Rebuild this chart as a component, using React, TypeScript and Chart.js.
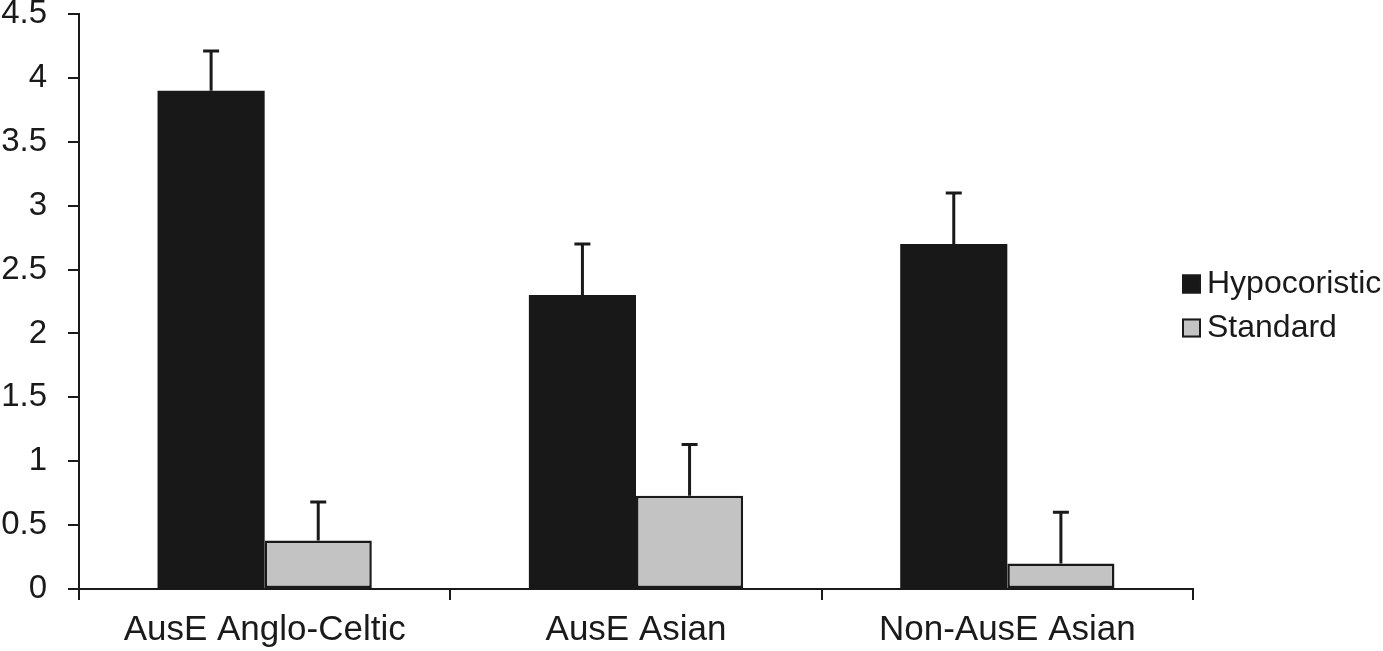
import { useEffect, useRef } from "react";
import { Chart, registerables } from "chart.js";

Chart.register(...registerables);

const groups = ["AusE Anglo-Celtic", "AusE Asian", "Non-AusE Asian"];
const hypocoristic = [3.9, 2.3, 2.7];
const hypocoristicErr = [0.31, 0.4, 0.4];
const standard = [0.38, 0.73, 0.2];
const standardErr = [0.3, 0.4, 0.4];
const yTicks = [0, 0.5, 1, 1.5, 2, 2.5, 3, 3.5, 4, 4.5];

const INK = "#1a1a1a";
const BLACK = "#181818";
const GREY = "#c3c3c3";
const FONT = "'Liberation Sans', Arial, sans-serif";

const errors = [hypocoristicErr, standardErr];

// upward-only error bars with a cap
const errorBars = {
	id: "errorBars",
	afterDatasetsDraw(chart: Chart) {
		const ctx = chart.ctx;
		const y = chart.scales.y;
		ctx.save();
		ctx.strokeStyle = INK;
		ctx.lineWidth = 3;
		chart.data.datasets.forEach((ds, i) => {
			const meta = chart.getDatasetMeta(i);
			meta.data.forEach((bar: any, j: number) => {
				const v = ds.data[j] as number;
				const top = y.getPixelForValue(v + errors[i][j]);
				ctx.beginPath();
				ctx.moveTo(bar.x, bar.y);
				ctx.lineTo(bar.x, top);
				ctx.moveTo(bar.x - 8, top);
				ctx.lineTo(bar.x + 8, top);
				ctx.stroke();
			});
		});
		ctx.restore();
	},
};

// legend to the right of the plot
const sideLegend = {
	id: "sideLegend",
	afterDraw(chart: Chart) {
		const ctx = chart.ctx;
		const area = chart.chartArea;
		const x = area.right - 11;
		const mid = (area.top + area.bottom) / 2 + 4;
		ctx.save();
		ctx.font = `32px ${FONT}`;
		ctx.textBaseline = "middle";
		ctx.textAlign = "left";
		chart.data.datasets.forEach((ds, i) => {
			const cy = mid + (i === 0 ? -22 : 22);
			ctx.fillStyle = ds.backgroundColor as string;
			ctx.fillRect(x, cy - 9, 19, 19);
			ctx.strokeStyle = INK;
			ctx.lineWidth = 2;
			ctx.strokeRect(x + 1, cy - 8, 17, 17);
			ctx.fillStyle = INK;
			ctx.fillText(ds.label as string, x + 25, cy + 1);
		});
		ctx.restore();
	},
};

export default function App() {
	const chartRef = useRef<HTMLCanvasElement | null>(null);
	const chartInstance = useRef<Chart | null>(null);

	useEffect(() => {
		document.body.style.margin = "0";
		if (!chartRef.current) return;
		const ctx = chartRef.current.getContext("2d");
		if (!ctx) return;

		chartInstance.current = new Chart(ctx, {
			type: "bar",
			data: {
				labels: groups,
				datasets: [
					{
						label: "Hypocoristic",
						data: hypocoristic,
						backgroundColor: BLACK,
						borderColor: BLACK,
						borderWidth: 0,
						borderSkipped: false,
					},
					{
						label: "Standard",
						data: standard,
						backgroundColor: GREY,
						borderColor: INK,
						borderWidth: 2.5,
						borderSkipped: false,
					},
				],
			},
			options: {
				responsive: true,
				maintainAspectRatio: false,
				animation: false,
				layout: { padding: { top: 14, right: 190, left: 0, bottom: 0 } },
				datasets: {
					bar: { categoryPercentage: 0.577, barPercentage: 1 },
				},
				plugins: {
					legend: { display: false },
					tooltip: { enabled: false },
				},
				scales: {
					y: {
						min: 0,
						max: 4.5,
						afterBuildTicks: (scale: any) => {
							scale.ticks = yTicks.map((v) => ({ value: v }));
						},
						afterFit: (scale: any) => {
							scale.width = 79;
							scale.paddingTop = 0;
							scale.paddingBottom = 0;
						},
						ticks: {
							font: { size: 33, family: FONT },
							color: INK,
							padding: 21,
							callback: (v: any) => `${v}`,
						},
						grid: {
							drawOnChartArea: false,
							drawTicks: true,
							tickLength: 11,
							color: INK,
							lineWidth: 2,
						},
						border: { display: true, color: INK, width: 2 },
					},
					x: {
						afterFit: (scale: any) => {
							scale.height = 62;
							scale.paddingLeft = 0;
							scale.paddingRight = 0;
						},
						ticks: {
							font: { size: 35, family: FONT },
							color: INK,
							padding: 9,
							autoSkip: false,
							maxRotation: 0,
						},
						grid: {
							offset: true,
							drawOnChartArea: false,
							drawTicks: true,
							tickLength: 11,
							color: INK,
							lineWidth: 2,
						},
						border: { display: true, color: INK, width: 2 },
					},
				},
			},
			plugins: [errorBars, sideLegend],
		});

		return () => {
			if (chartInstance.current) {
				chartInstance.current.destroy();
				chartInstance.current = null;
			}
		};
	}, []);

	return (
		<div style={{ position: "fixed", left: 0, top: 0, width: 1383, height: 651 }}>
			<canvas ref={chartRef} />
		</div>
	);
}
